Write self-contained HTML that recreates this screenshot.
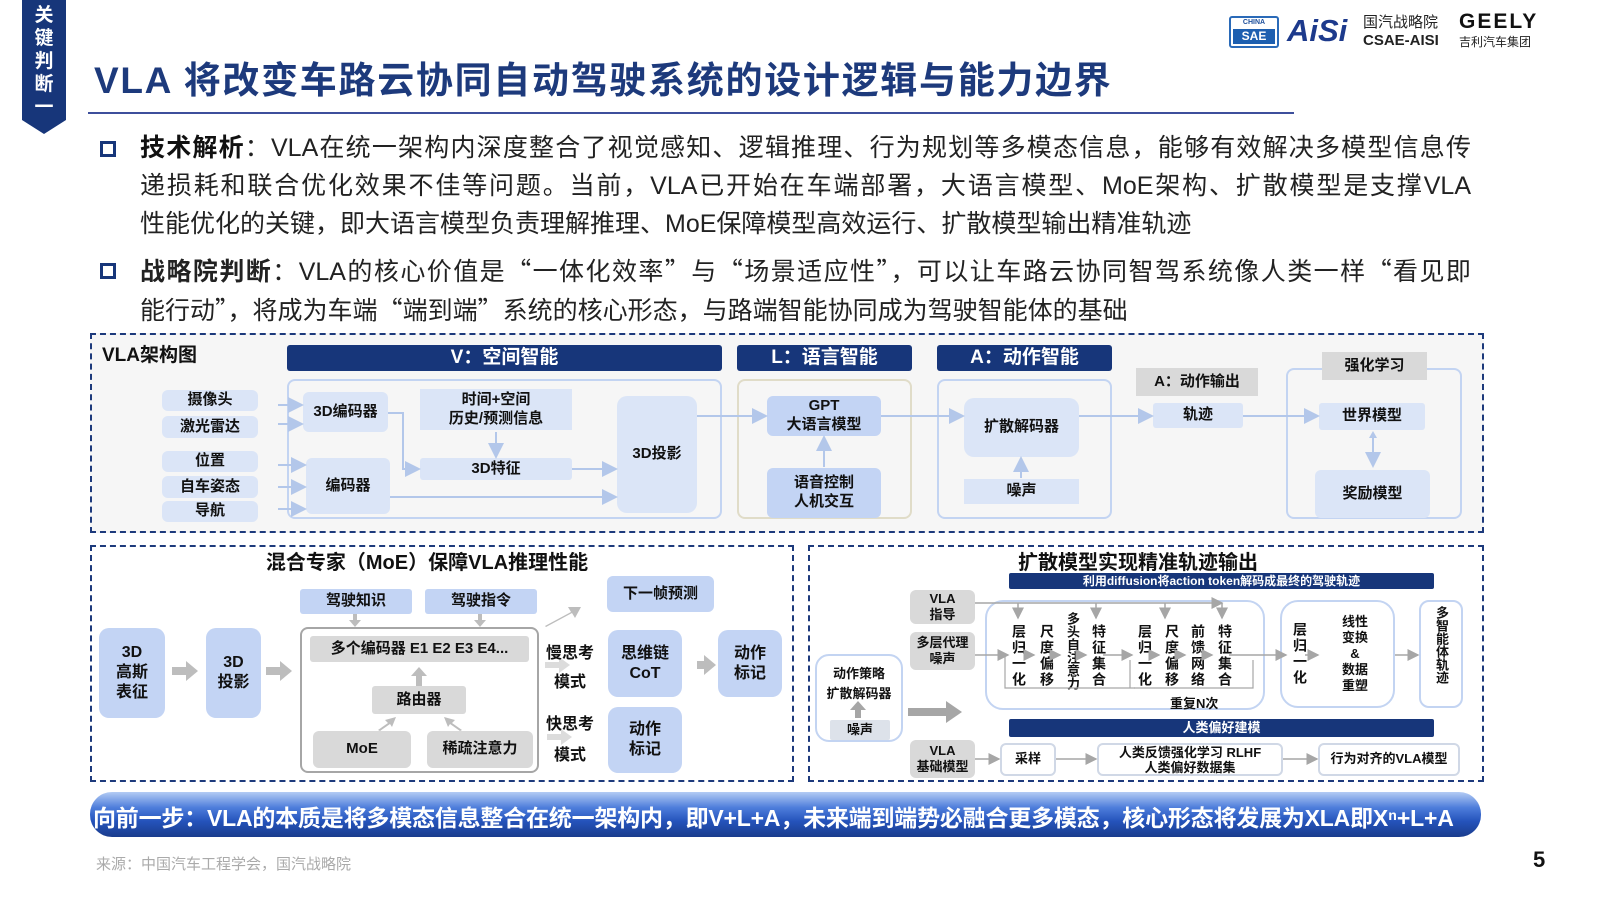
<!DOCTYPE html>
<html><head><meta charset="utf-8">
<style>
*{margin:0;padding:0;box-sizing:border-box}
body{width:1600px;height:900px;background:#fff;position:relative;overflow:hidden;font-family:"Liberation Sans","Noto Sans CJK SC",sans-serif;color:#111}
.a{position:absolute}
.b{position:absolute;display:flex;align-items:center;justify-content:center;text-align:center;font-weight:bold;font-size:15px;line-height:1.25;border-radius:6px}
.lb{background:#dbe5f7}
.mb{background:#c3d4f4}
.gy{background:#d9d9d9}
.hd{background:#17367a;color:#fff;font-size:19px;border-radius:3px}
.dash{position:absolute;border:2px dashed #1d3a7c}
.ol{position:absolute;border:2px solid #c3d4f2;border-radius:8px}
.ln{position:absolute;font-size:25px;line-height:38px;color:#222;left:140px;width:1331px;white-space:nowrap}
.j{text-align:justify;text-align-last:justify}
.q{font-family:"Noto Sans CJK SC",sans-serif}
.sq{position:absolute;width:16px;height:16px;border:3px solid #17367a;left:100px}
.v{writing-mode:vertical-rl;text-orientation:upright;letter-spacing:2px}
</style></head><body>
<!-- tab -->
<svg class="a" style="left:22px;top:0" width="46" height="136"><polygon points="0,0 44,0 44,120 22,134 0,120" fill="#17367a"/></svg>
<div class="a" style="left:22px;top:4px;width:44px;color:#fff;font-weight:bold;font-size:19px;line-height:23px;text-align:center">关<br>键<br>判<br>断<br>一</div>
<div class="a" style="left:94px;top:50px;font-size:37px;font-weight:bold;color:#1d3a7c;letter-spacing:1.7px;white-space:nowrap">VLA 将改变车路云协同自动驾驶系统的设计逻辑与能力边界</div>
<div class="a" style="left:88px;top:112px;width:1206px;height:2px;background:#3d4f9c"></div>
<!-- logos -->
<div class="a" style="left:1229px;top:16px;width:50px;height:32px;border:2px solid #2a6ab8;border-radius:3px;background:#fff"></div>
<div class="a" style="left:1233px;top:19px;width:42px;font-size:7px;font-weight:bold;color:#1d4f9c;text-align:center">CHINA</div>
<div class="a" style="left:1233px;top:29px;width:42px;height:15px;background:#1d5fb0;color:#fff;font-size:12px;font-weight:bold;text-align:center;line-height:15px">SAE</div>
<div class="a" style="left:1287px;top:13px;font-size:31px;font-weight:bold;color:#1d3a8c;font-style:italic">AiSi</div>
<div class="a" style="left:1363px;top:14px;font-size:15px;color:#222;line-height:18px">国汽战略院<br><b>CSAE-AISI</b></div>
<div class="a" style="left:1459px;top:10px;font-size:21px;font-weight:bold;letter-spacing:2px;color:#111">GEELY</div>
<div class="a" style="left:1459px;top:33px;font-size:12px;color:#222">吉利汽车集团</div>
<!-- bullets -->
<div class="sq" style="top:141px"></div>
<div class="ln j" style="top:129px"><b style="color:#111">技术解析</b>：VLA在统一架构内深度整合了视觉感知、逻辑推理、行为规划等多模态信息，能够有效解决多模型信息传</div>
<div class="ln j" style="top:167px">递损耗和联合优化效果不佳等问题。当前，VLA已开始在车端部署，大语言模型、MoE架构、扩散模型是支撑VLA</div>
<div class="ln" style="top:205px">性能优化的关键，即大语言模型负责理解推理、MoE保障模型高效运行、扩散模型输出精准轨迹</div>
<div class="sq" style="top:263px"></div>
<div class="ln j" style="top:251px"><b>战略院判断</b>：VLA的核心价值是<span class="q">“</span>一体化效率<span class="q">”</span>与<span class="q">“</span>场景适应性<span class="q">”</span>，可以让车路云协同智驾系统像人类一样<span class="q">“</span>看见即</div>
<div class="ln" style="top:290px">能行动<span class="q">”</span>，将成为车端<span class="q">“</span>端到端<span class="q">”</span>系统的核心形态，与路端智能协同成为驾驶智能体的基础</div>

<!-- TOP BOX -->
<div class="dash" style="left:90px;top:333px;width:1394px;height:200px;background:#f6f6f6"></div>
<div class="a" style="left:102px;top:340px;font-size:19px;font-weight:bold;color:#111">VLA架构图</div>
<div class="b hd" style="left:287px;top:345px;width:435px;height:26px">V：空间智能</div>
<div class="b hd" style="left:737px;top:345px;width:175px;height:26px">L：语言智能</div>
<div class="b hd" style="left:937px;top:345px;width:175px;height:26px">A：动作智能</div>
<div class="b lb" style="left:162px;top:390px;width:96px;height:21px">摄像头</div>
<div class="b lb" style="left:162px;top:416px;width:96px;height:22px">激光雷达</div>
<div class="b lb" style="left:162px;top:451px;width:96px;height:21px">位置</div>
<div class="b lb" style="left:162px;top:476px;width:96px;height:22px">自车姿态</div>
<div class="b lb" style="left:162px;top:501px;width:96px;height:21px">导航</div>
<div class="ol" style="left:287px;top:379px;width:435px;height:140px"></div>
<div class="ol" style="left:737px;top:379px;width:175px;height:140px;border-color:#e0dcc8"></div>
<div class="ol" style="left:937px;top:379px;width:175px;height:140px"></div>
<div class="ol" style="left:1286px;top:368px;width:176px;height:151px"></div>
<div class="b lb" style="left:303px;top:392px;width:85px;height:40px">3D编码器</div>
<div class="b lb" style="left:306px;top:458px;width:84px;height:56px">编码器</div>
<div class="b lb" style="left:420px;top:389px;width:152px;height:41px;border-radius:0">时间+空间<br>历史/预测信息</div>
<div class="b lb" style="left:420px;top:458px;width:152px;height:22px;border-radius:3px">3D特征</div>
<div class="b lb" style="left:617px;top:396px;width:80px;height:117px;border-radius:10px">3D投影</div>
<div class="b mb" style="left:767px;top:396px;width:114px;height:40px">GPT<br>大语言模型</div>
<div class="b mb" style="left:767px;top:468px;width:114px;height:50px">语音控制<br>人机交互</div>
<div class="b lb" style="left:964px;top:398px;width:115px;height:59px;border-radius:10px">扩散解码器</div>
<div class="b lb" style="left:964px;top:479px;width:115px;height:25px;border-radius:0">噪声</div>
<div class="b gy" style="left:1136px;top:368px;width:122px;height:28px;border-radius:0">A：动作输出</div>
<div class="b lb" style="left:1153px;top:403px;width:90px;height:25px;border-radius:3px">轨迹</div>
<div class="b gy" style="left:1322px;top:352px;width:105px;height:28px;border-radius:0">强化学习</div>
<div class="b lb" style="left:1319px;top:403px;width:106px;height:27px;border-radius:3px">世界模型</div>
<div class="b lb" style="left:1315px;top:470px;width:115px;height:48px">奖励模型</div>
<svg class="a" style="left:0;top:0" width="1600" height="900">
<defs><marker id="m" markerWidth="8" markerHeight="8" refX="7" refY="4" orient="auto"><path d="M0,0 L8,4 L0,8z" fill="#b3c7ea"/></marker>
<marker id="g" markerWidth="8" markerHeight="8" refX="7" refY="4" orient="auto"><path d="M0,0 L8,4 L0,8z" fill="#a6a6a6"/></marker></defs>
<g stroke="#b3c7ea" stroke-width="2" fill="none" marker-end="url(#m)">
<line x1="278" y1="405" x2="302" y2="405"/><line x1="278" y1="424" x2="302" y2="424"/>
<line x1="278" y1="465" x2="305" y2="465"/><line x1="278" y1="487" x2="305" y2="487"/><line x1="278" y1="509" x2="305" y2="509"/>
<polyline points="388,413 403,413 403,469 419,469"/>
<line x1="496" y1="432" x2="496" y2="457"/>
<line x1="572" y1="469" x2="616" y2="469"/>
<line x1="390" y1="497" x2="616" y2="497"/>
<line x1="697" y1="416" x2="766" y2="416"/>
<line x1="824" y1="467" x2="824" y2="437"/>
<line x1="881" y1="416" x2="963" y2="416"/>
<line x1="1021" y1="478" x2="1021" y2="458"/>
<line x1="1079" y1="416" x2="1152" y2="416"/>
<line x1="1243" y1="416" x2="1318" y2="416"/>
<line x1="1373" y1="434" x2="1373" y2="466"/>
</g>
<path d="M1369,438 L1373,431 L1377,438z" fill="#b3c7ea"/>
</svg>

<!-- BOTTOM LEFT -->
<div class="dash" style="left:90px;top:545px;width:704px;height:237px"></div>
<div class="a" style="left:90px;top:546px;width:704px;text-align:center;font-size:20px;font-weight:bold;padding-right:30px">混合专家（MoE）保障VLA推理性能</div>
<div class="b mb" style="left:99px;top:628px;width:66px;height:90px;border-radius:10px;font-size:16px">3D<br>高斯<br>表征</div>
<div class="b mb" style="left:206px;top:628px;width:55px;height:90px;border-radius:10px;font-size:16px">3D<br>投影</div>
<div class="b mb" style="left:300px;top:589px;width:112px;height:25px;border-radius:3px">驾驶知识</div>
<div class="b mb" style="left:425px;top:589px;width:112px;height:25px;border-radius:3px">驾驶指令</div>
<div class="a" style="left:300px;top:627px;width:239px;height:146px;border:2px solid #a6a6a6;border-radius:8px"></div>
<div class="b gy" style="left:310px;top:636px;width:219px;height:26px;border-radius:3px">多个编码器 E1 E2 E3 E4...</div>
<div class="b gy" style="left:372px;top:686px;width:94px;height:28px;border-radius:3px">路由器</div>
<div class="b gy" style="left:313px;top:731px;width:98px;height:37px">MoE</div>
<div class="b gy" style="left:427px;top:731px;width:106px;height:37px">稀疏注意力</div>
<div class="b mb" style="left:607px;top:576px;width:107px;height:36px">下一帧预测</div>
<div class="b mb" style="left:608px;top:630px;width:74px;height:67px;border-radius:10px;font-size:16px">思维链<br>CoT</div>
<div class="b mb" style="left:718px;top:630px;width:64px;height:67px;border-radius:10px;font-size:16px">动作<br>标记</div>
<div class="b mb" style="left:608px;top:707px;width:74px;height:66px;border-radius:10px;font-size:16px">动作<br>标记</div>
<div class="a" style="left:546px;top:639px;font-size:16px;font-weight:bold;line-height:29px;text-align:center;z-index:2">慢思考<br>模式</div>
<div class="a" style="left:546px;top:709px;font-size:16px;font-weight:bold;line-height:31px;text-align:center;z-index:2">快思考<br>模式</div>

<!-- BOTTOM RIGHT -->
<div class="dash" style="left:808px;top:545px;width:676px;height:237px"></div>
<div class="a" style="left:1018px;top:546px;font-size:20px;font-weight:bold">扩散模型实现精准轨迹输出</div>
<div class="b hd" style="left:1009px;top:573px;width:425px;height:16px;font-size:12px;border-radius:2px">利用diffusion将action token解码成最终的驾驶轨迹</div>
<div class="b gy" style="left:910px;top:590px;width:65px;height:34px;font-size:13px">VLA<br>指导</div>
<div class="b gy" style="left:910px;top:632px;width:65px;height:38px;font-size:13px">多层代理<br>噪声</div>
<div class="ol" style="left:815px;top:654px;width:88px;height:88px;border-radius:14px"></div>
<div class="a" style="left:815px;top:664px;width:88px;text-align:center;font-size:13px;font-weight:bold;line-height:20px">动作策略<br>扩散解码器</div>
<div class="b gy" style="left:830px;top:720px;width:60px;height:20px;font-size:13px;background:#dde2ea;border-radius:2px">噪声</div>
<div class="ol" style="left:985px;top:600px;width:280px;height:110px;border-radius:18px"></div>
<div class="ol" style="left:1280px;top:600px;width:115px;height:108px;border-radius:18px"></div>
<div class="ol" style="left:1419px;top:600px;width:44px;height:108px;border-radius:10px"></div>
<div class="a v" style="left:1011px;top:624px;font-size:14px;font-weight:bold;line-height:16px;height:70px">层归一化</div>
<div class="a v" style="left:1037px;top:624px;font-size:14px;font-weight:bold;height:70px">尺度偏移</div>
<div class="a v" style="left:1063px;top:612px;font-size:13px;font-weight:bold;height:80px;letter-spacing:0">多头自注意力</div>
<div class="a v" style="left:1089px;top:624px;font-size:14px;font-weight:bold;height:70px">特征集合</div>
<div class="a v" style="left:1135px;top:624px;font-size:14px;font-weight:bold;height:70px">层归一化</div>
<div class="a v" style="left:1162px;top:624px;font-size:14px;font-weight:bold;height:70px">尺度偏移</div>
<div class="a v" style="left:1188px;top:624px;font-size:14px;font-weight:bold;height:70px">前馈网络</div>
<div class="a v" style="left:1215px;top:624px;font-size:14px;font-weight:bold;height:70px">特征集合</div>
<div class="a" style="left:1170px;top:693px;font-size:13px;font-weight:bold">重复N次</div>
<div class="a v" style="left:1290px;top:622px;font-size:14px;font-weight:bold;height:70px">层归一化</div>
<div class="a" style="left:1335px;top:614px;width:40px;text-align:center;font-size:13px;font-weight:bold;line-height:16px">线性<br>变换<br>&amp;<br>数据<br>重塑</div>
<div class="a v" style="left:1432px;top:606px;font-size:13px;font-weight:bold;height:100px;letter-spacing:0">多智能体轨迹</div>
<div class="b hd" style="left:1009px;top:719px;width:425px;height:18px;font-size:13px;border-radius:2px">人类偏好建模</div>
<div class="b gy" style="left:910px;top:740px;width:65px;height:38px;font-size:13px">VLA<br>基础模型</div>
<div class="b" style="left:1000px;top:743px;width:56px;height:33px;border:2px solid #d0d8e6;font-size:13px;background:#fff">采样</div>
<div class="b" style="left:1097px;top:743px;width:186px;height:33px;border:2px solid #d0d8e6;font-size:13px;background:#fff;line-height:15px">人类反馈强化学习 RLHF<br>人类偏好数据集</div>
<div class="b" style="left:1318px;top:743px;width:142px;height:33px;border:2px solid #d0d8e6;font-size:13px;background:#fff">行为对齐的VLA模型</div>

<svg class="a" style="left:0;top:0" width="1600" height="900">
<g fill="#bdbdbd">
<path d="M172,667 h14 v-6 l12,10 l-12,10 v-6 h-14z"/>
<path d="M266,667 h14 v-6 l12,10 l-12,10 v-6 h-14z"/>
<path d="M697,661 h7 v-6 l12,10 l-12,10 v-6 h-7z"/>
<path d="M545,626 l26,-14 l-3,-5 l13,0 l-6,11 l-3,-5 l-26,14z"/>
<path d="M353,614 v6 h-4 l6,7 l6,-7 h-4 v-6z"/>
<path d="M478,614 v6 h-4 l6,7 l6,-7 h-4 v-6z"/>
<path d="M416,686 v-10 h-5 l8,-9 l8,9 h-5 v10z"/>
<path d="M378,730 l10,-7 l-3,-3 l11,-3 l-4,10 l-2,-3 l-10,7z"/>
<path d="M462,730 l-10,-7 l3,-3 l-11,-3 l4,10 l2,-3 l10,7z"/>
</g>
<path d="M908,708 h38 v-7 l16,11 l-16,11 v-7 h-38z" fill="#a6a6a6"/>
<path d="M855,718 v-8 h-5 l8,-9 l8,9 h-5 v8z" fill="#a6a6a6"/>
<g stroke="#a6a6a6" stroke-width="1.5" fill="none" marker-end="url(#g)">
<line x1="975" y1="655" x2="1008" y2="655"/>
<polyline points="975,603 1222,603"/>
<line x1="1018" y1="603" x2="1018" y2="618"/><line x1="1096" y1="603" x2="1096" y2="618"/>
<line x1="1165" y1="603" x2="1165" y2="618"/><line x1="1222" y1="603" x2="1222" y2="618"/>
<line x1="1025" y1="655" x2="1034" y2="655"/><line x1="1051" y1="655" x2="1060" y2="655"/><line x1="1077" y1="655" x2="1086" y2="655"/>
<line x1="1103" y1="655" x2="1132" y2="655"/><line x1="1149" y1="655" x2="1159" y2="655"/><line x1="1176" y1="655" x2="1185" y2="655"/><line x1="1202" y1="655" x2="1212" y2="655"/>
<line x1="1229" y1="655" x2="1286" y2="655"/><line x1="1305" y1="655" x2="1318" y2="655"/><line x1="1395" y1="655" x2="1418" y2="655"/>
<line x1="975" y1="759" x2="999" y2="759"/><line x1="1056" y1="759" x2="1096" y2="759"/><line x1="1283" y1="759" x2="1317" y2="759"/>
</g>
<g stroke="#a6a6a6" stroke-width="1.2" fill="none">
<polyline points="1005,655 1005,688 1135,688"/>
<polyline points="1130,688 1130,660"/>
<polyline points="1134,688 1253,688 1253,660"/>
</g>
</svg>
<svg class="a" style="left:0;top:0;z-index:1" width="1600" height="900">
<path d="M545,662 h14 v-5 l11,8 l-11,8 v-5 h-14z" fill="#dcdcdc"/>
<path d="M547,734 h14 v-5 l11,8 l-11,8 v-5 h-14z" fill="#dcdcdc"/>
</svg>

<!-- banner -->
<div class="a" style="left:90px;top:792px;width:1391px;height:45px;border-radius:22px;background:linear-gradient(#b3ccf4 0%,#4d7ddb 35%,#2553bb 65%,#1a3c8c 100%)"></div>
<div class="a" style="left:93px;top:799px;font-size:23px;font-weight:bold;color:#fff;white-space:nowrap;letter-spacing:-0.2px">向前一步：VLA的本质是将多模态信息整合在统一架构内，即V+L+A，未来端到端势必融合更多模态，核心形态将发展为XLA即Xⁿ+L+A</div>
<div class="a" style="left:96px;top:853px;font-size:15px;color:#aaa">来源：中国汽车工程学会，国汽战略院</div>
<div class="a" style="left:1533px;top:847px;font-size:22px;font-weight:bold;color:#111">5</div>
</body></html>
